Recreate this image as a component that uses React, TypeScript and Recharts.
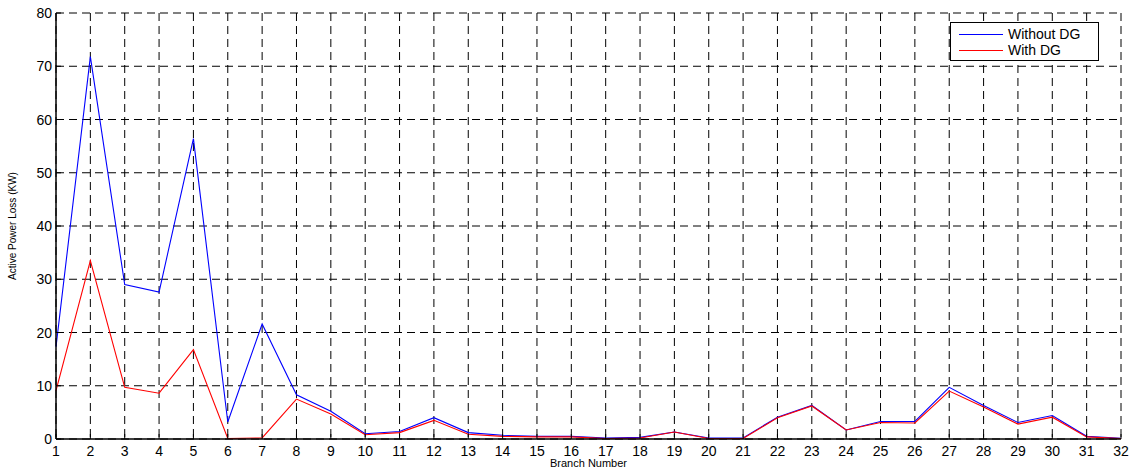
import React from "react";
import {
	LineChart,
	Line,
	XAxis,
	YAxis,
	CartesianGrid,
	Legend,
} from "recharts";

const branches = [
	1, 2, 3, 4, 5, 6, 7, 8, 9, 10, 11, 12, 13, 14, 15, 16, 17, 18, 19, 20, 21, 22,
	23, 24, 25, 26, 27, 28, 29, 30, 31, 32,
];

const withoutDG = [
	17.3, 71.8, 29.0, 27.6, 56.4, 3.2, 21.6, 8.3, 5.2, 1.0, 1.4, 4.0, 1.2, 0.7,
	0.5, 0.5, 0.2, 0.3, 1.3, 0.2, 0.2, 4.1, 6.3, 1.7, 3.3, 3.3, 9.7, 6.3, 3.1, 4.4,
	0.5, 0.15,
];

const withDG = [
	9.1, 33.5, 9.7, 8.6, 16.8, 0.1, 0.2, 7.5, 4.7, 0.8, 1.2, 3.5, 0.9, 0.5, 0.4,
	0.4, 0.1, 0.2, 1.3, 0.1, 0.1, 4.0, 6.2, 1.7, 3.1, 3.0, 9.0, 6.0, 2.8, 4.1, 0.4,
	0.1,
];

const yTicks = [0, 10, 20, 30, 40, 50, 60, 70, 80];

const seriesNames = ["Without DG", "With DG"];

const data = branches.map((b, i) => ({
	branch: b,
	without: withoutDG[i],
	with: withDG[i],
}));

const FONT = "'Liberation Sans', Arial, sans-serif";

const XTick = (props: any) => {
	const { x, y, payload } = props;
	return (
		<g>
			<line x1={x} x2={x} y1={y} y2={y - 5} stroke="#000" />
			<text
				x={x}
				y={y + 17}
				textAnchor="middle"
				fontSize={14}
				fontFamily={FONT}
				fill="#000"
			>
				{payload.value}
			</text>
		</g>
	);
};

const YTick = (props: any) => {
	const { x, y, payload } = props;
	return (
		<g>
			<line x1={x} x2={x + 5} y1={y} y2={y} stroke="#000" />
			<text
				x={x - 4}
				y={y + 5}
				textAnchor="end"
				fontSize={14}
				fontFamily={FONT}
				fill="#000"
			>
				{payload.value}
			</text>
		</g>
	);
};

const TopTick = (props: any) => {
	const { x, y } = props;
	return <line x1={x} x2={x} y1={y} y2={y + 5} stroke="#000" />;
};

const RightTick = (props: any) => {
	const { x, y } = props;
	return <line x1={x} x2={x - 5} y1={y} y2={y} stroke="#000" />;
};

const renderLegend = (props: any) => {
	const items = [...(props.payload || [])].sort(
		(a: any, b: any) => seriesNames.indexOf(a.value) - seriesNames.indexOf(b.value)
	);
	return (
		<div
			style={{
				border: "1px solid #000",
				background: "#fff",
				width: 149,
				height: 39,
				fontFamily: FONT,
				fontSize: 14,
				paddingTop: 3,
				boxSizing: "border-box",
			}}
		>
			{items.map((entry: any) => (
				<div
					key={entry.value}
					style={{ display: "flex", alignItems: "center", height: 16 }}
				>
					<div
						style={{
							width: 44,
							height: 1,
							background: entry.payload?.stroke || entry.color,
							marginLeft: 8,
							marginRight: 5,
						}}
					/>
					<span>{entry.value}</span>
				</div>
			))}
		</div>
	);
};

export default function App() {
	return (
		<div style={{ position: "absolute", left: 0, top: 0 }}>
			<LineChart
				width={1134}
				height={470}
				data={data}
				margin={{ top: 13, right: 13, left: 0, bottom: 0 }}
			>
				<CartesianGrid
					stroke="#000"
					strokeDasharray="8 5"
					horizontal
					vertical
				/>
				<XAxis
					dataKey="branch"
					type="number"
					domain={[1, 32]}
					ticks={branches}
					interval={0}
					height={31}
					tickSize={0}
					tickMargin={0}
					tickLine={false}
					axisLine={{ stroke: "#000", strokeWidth: 1.5 }}
					tick={<XTick />}
					label={{
						value: "Branch Number",
						position: "insideBottom",
						offset: 3,
						style: { fontSize: 11, fontFamily: FONT, fill: "#000" },
					}}
				/>
				<XAxis
					xAxisId="top"
					orientation="top"
					dataKey="branch"
					type="number"
					domain={[1, 32]}
					ticks={branches}
					interval={0}
					height={0}
					tickSize={0}
					tickMargin={0}
					tickLine={false}
					axisLine={{ stroke: "#000" }}
					tick={<TopTick />}
				/>
				<YAxis
					type="number"
					domain={[0, 80]}
					ticks={yTicks}
					width={56}
					tickSize={0}
					tickMargin={0}
					tickLine={false}
					axisLine={{ stroke: "#000", strokeWidth: 1.5 }}
					tick={<YTick />}
					label={{
						value: "Active Power Loss (KW)",
						angle: -90,
						position: "insideLeft",
						offset: 12,
						style: {
							fontSize: 10,
							fontFamily: FONT,
							fill: "#000",
							textAnchor: "middle",
						},
					}}
				/>
				<YAxis
					yAxisId="right"
					orientation="right"
					type="number"
					domain={[0, 80]}
					ticks={yTicks}
					width={0}
					tickSize={0}
					tickMargin={0}
					tickLine={false}
					axisLine={{ stroke: "#000" }}
					tick={<RightTick />}
				/>
				<Line
					dataKey="without"
					name="Without DG"
					stroke="#0000ff"
					strokeWidth={1.1}
					dot={false}
					isAnimationActive={false}
				/>
				<Line
					dataKey="with"
					name="With DG"
					stroke="#ff0000"
					strokeWidth={1.1}
					dot={false}
					isAnimationActive={false}
				/>
				<Legend
					layout="horizontal"
					verticalAlign="middle"
					align="center"
					content={renderLegend}
					wrapperStyle={{
						position: "absolute",
						left: 950,
						top: 22,
						width: 149,
						height: 39,
					}}
				/>
			</LineChart>
		</div>
	);
}
